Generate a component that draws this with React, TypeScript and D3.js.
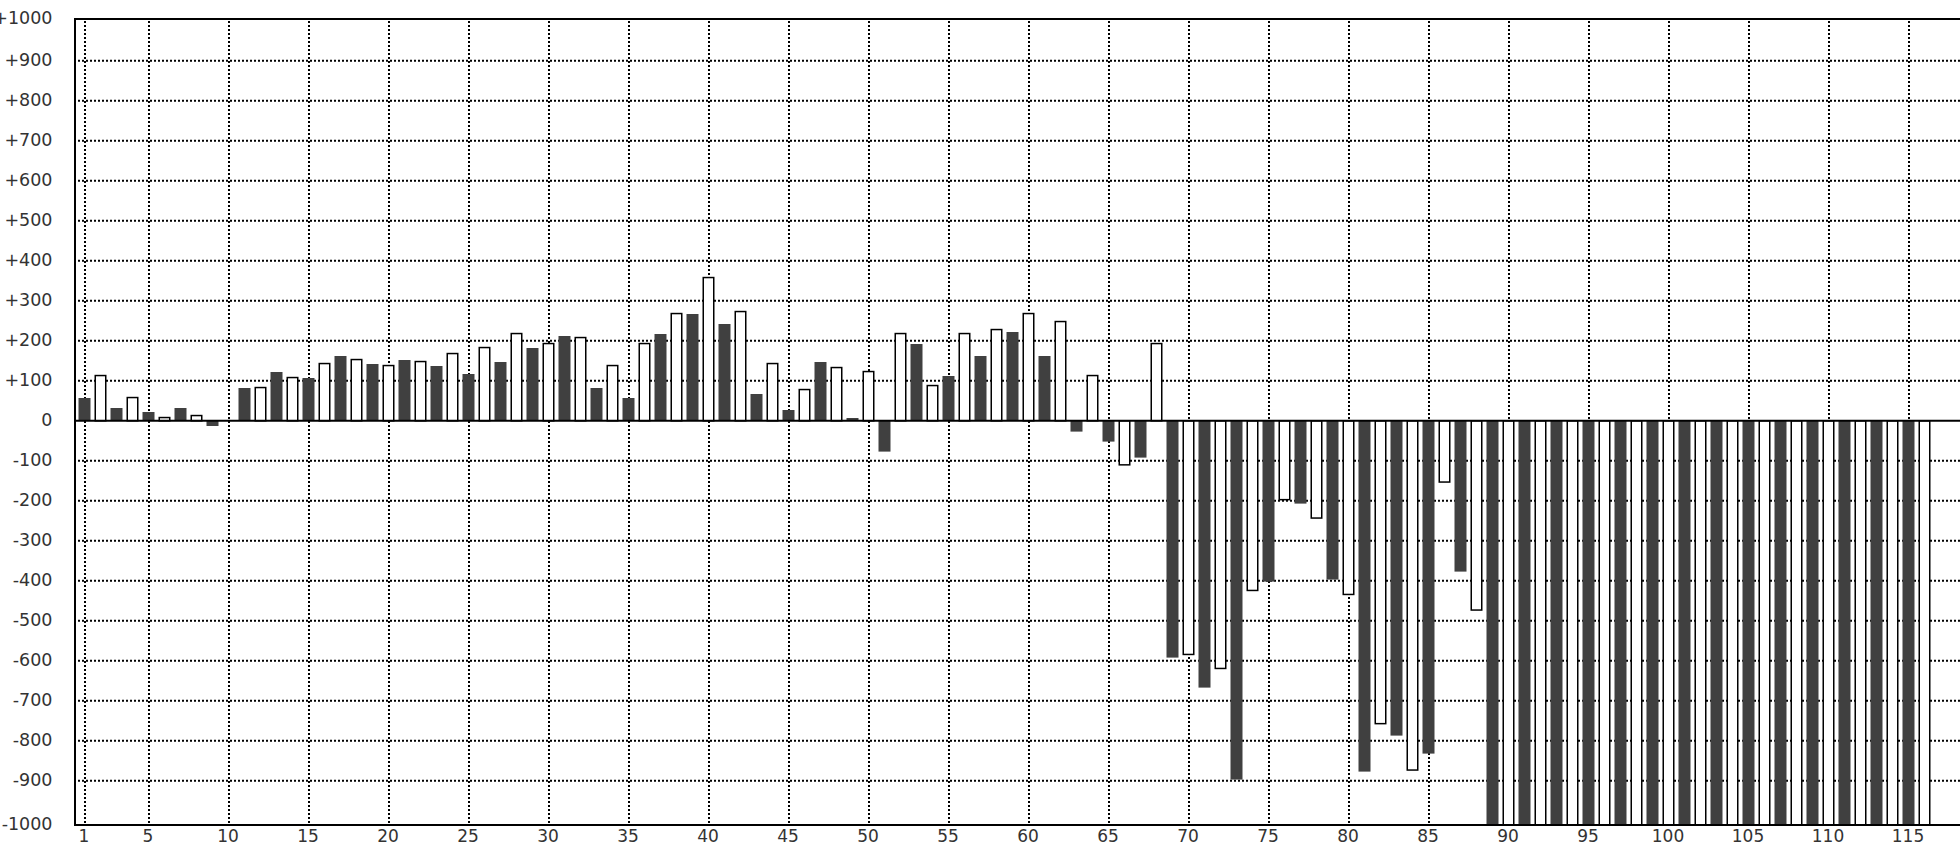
import React from "react";
import * as d3 from "d3";

// Data
const categories: number[] = d3.range(1, 117);
const values: number[] = [
  57, 115, 32, 60, 22, 10, 32, 15, -13, 0,
  82, 85, 122, 110, 107, 145, 162, 155, 142, 140,
  152, 150, 137, 170, 117, 185, 147, 220, 182, 195,
  212, 210, 82, 140, 57, 195, 217, 270, 267, 360,
  242, 275, 67, 145, 27, 80, 147, 135, 7, 125,
  -77, 220, 192, 90, 112, 220, 162, 230, 222, 270,
  162, 250, -27, 115, -52, -112, -92, 195, -592, -586,
  -667, -621, -897, -426, -402, -199, -207, -245, -397, -436,
  -877, -759, -787, -875, -832, -155, -377, -475, -1100, -1100,
  -1100, -1100, -1100, -1100, -1100, -1100, -1100, -1100, -1100, -1100,
  -1100, -1100, -1100, -1100, -1100, -1100, -1100, -1100, -1100, -1100,
  -1100, -1100, -1100, -1100, -1100, -1100,
];
const yTicks: number[] = d3.range(-1000, 1001, 100);
const xTicks: number[] = [1, 5, 10, 15, 20, 25, 30, 35, 40, 45, 50, 55, 60, 65, 70, 75, 80, 85, 90, 95, 100, 105, 110, 115];

const W = 1960;
const H = 846;
const left = 75;
const top = 19;
const bottom = 825;
const right = 1970;

const fmt = (v: number) => (v > 0 ? "+" + v : v < 0 ? "-" + Math.abs(v) : "0");

export default function App() {
  const x = d3.scaleLinear().domain([1, 116]).range([85, 1925]);
  const y = d3.scaleLinear().domain([-1000, 1000]).range([820.8, 20.8]);
  const barW = 12;
  const font = "'DejaVu Sans', sans-serif";

  return (
    <svg
      width={W}
      height={H}
      style={{ position: "absolute", left: 0, top: 0, background: "#fff", overflow: "hidden" }}
    >
      <defs>
        <clipPath id="plot">
          <rect x={left} y={top} width={right - left} height={bottom - top} />
        </clipPath>
      </defs>
      <rect x={0} y={0} width={W} height={H} fill="#fff" />
      {/* horizontal grid */}
      {yTicks
        .filter((v) => v !== 0 && Math.abs(v) !== 1000)
        .map((v) => (
          <line
            key={"hg" + v}
            x1={left + 3}
            x2={right}
            y1={y(v)}
            y2={y(v)}
            stroke="#000"
            strokeWidth={2}
            strokeDasharray="2,2"
          />
        ))}
      {/* vertical grid */}
      {xTicks.map((t) => (
        <line
          key={"vg" + t}
          x1={x(t)}
          x2={x(t)}
          y1={top + 2}
          y2={bottom}
          stroke="#000"
          strokeWidth={2}
          strokeDasharray="2,2"
        />
      ))}
      {/* bars */}
      <g clipPath="url(#plot)">
        {categories.map((c, i) => {
          const v = values[i];
          if (v === 0) return null;
          const y0 = y(0);
          const y1 = y(v);
          const ya = Math.min(y0, y1);
          const h = Math.abs(y1 - y0);
          const cx = x(c) - 0.5;
          const dark = c % 2 === 1;
          return dark ? (
            <rect key={c} x={cx - barW / 2} y={ya} width={barW} height={h} fill="#404040" />
          ) : (
            <rect
              key={c}
              x={cx - barW / 2 + 0.75}
              y={ya + (v > 0 ? 0.75 : 0)}
              width={barW - 1.5}
              height={Math.max(0, h - 0.75)}
              fill="#fff"
              stroke="#000"
              strokeWidth={1.5}
            />
          );
        })}
      </g>
      {/* zero line */}
      <line x1={left} x2={right} y1={y(0)} y2={y(0)} stroke="#000" strokeWidth={2} />
      {/* frame */}
      <line x1={left} x2={right} y1={top} y2={top} stroke="#000" strokeWidth={2} />
      <line x1={left} x2={right} y1={bottom} y2={bottom} stroke="#000" strokeWidth={2} />
      <line x1={left} x2={left} y1={top - 1} y2={bottom + 1} stroke="#000" strokeWidth={2} />
      {/* y labels */}
      {yTicks.map((v, i) => {
        const yy = i === 0 ? bottom - 1 : i === yTicks.length - 1 ? top - 1.5 : y(v) - 1.5;
        return (
          <text
            key={"yl" + v}
            x={52.5}
            y={yy}
            dy="0.36em"
            textAnchor="end"
            fontFamily={font}
            fontSize={17.5}
            fill="#333"
          >
            {fmt(v)}
          </text>
        );
      })}
      {/* x labels */}
      {xTicks.map((t) => (
        <text
          key={"xl" + t}
          x={x(t) - 1}
          y={842}
          textAnchor="middle"
          fontFamily={font}
          fontSize={17}
          fill="#333"
        >
          {t}
        </text>
      ))}
    </svg>
  );
}
